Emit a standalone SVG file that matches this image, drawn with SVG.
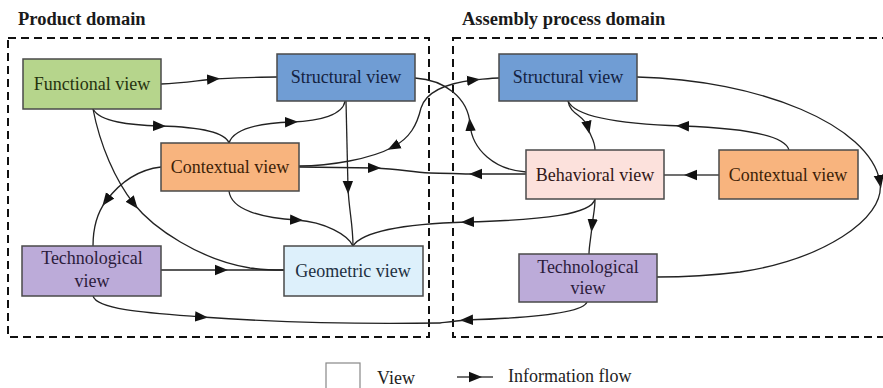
<svg xmlns="http://www.w3.org/2000/svg" width="883" height="388" viewBox="0 0 883 388">
<defs>
<marker id="a" markerUnits="userSpaceOnUse" markerWidth="14" markerHeight="12" refX="7" refY="6" orient="auto"><path d="M0,0.8 L13,6 L0,11.2 z" fill="#111"/></marker>
<style>
.t{font-family:"Liberation Serif","Times New Roman",serif;font-size:18px;text-anchor:middle}
.h{font-family:"Liberation Serif","Times New Roman",serif;font-size:18.5px;font-weight:bold;fill:#1a1a1a}
.n{stroke:#4a4a4a;stroke-width:1.5}
.c path{fill:none;stroke:#222;stroke-width:1.3}
.m{marker-end:url(#a)}
.d{fill:none;stroke:#111;stroke-width:2;stroke-dasharray:8,5}
</style>
</defs>
<rect width="883" height="388" fill="#fff"/>
<text class="h" x="18" y="25">Product domain</text>
<text class="h" x="462" y="25">Assembly process domain</text>
<rect class="d" x="8" y="38" width="421" height="299"/>
<rect class="d" x="453" y="38" width="437" height="299"/>

<g class="c" id="connectors">
<path class="m" d="M161,84 C185,83 200,80 214,79"/><path d="M214,79 C235,78 255,77 277,77"/>
<path class="m" d="M93,109 C100,122 130,125 160,126"/><path d="M160,126 C200,127 225,132 229,143"/>
<path class="m" d="M229,143 C234,128 260,123 292,122"/><path d="M292,122 C320,121 343,115 345,101"/>
<path class="m" d="M93,109 C100,145 115,180 134,204"/><path d="M134,204 C153,228 200,260 250,268 C265,270 275,270 284,270"/>
<path class="m" d="M161,167 C135,170 118,185 106,201"/><path d="M106,201 C97,213 93,228 93,246"/>
<path class="m" d="M229,191 C231,210 262,218 297,220"/><path d="M297,220 C325,222 348,235 353,246"/>
<path class="m" d="M346,101 L348,188"/><path d="M348,188 C349,210 353,225 353,246"/>
<path class="m" d="M595,199 C592,214 545,220 467,222"/><path d="M467,222 C400,224 362,232 353,246"/>
<path class="m" d="M595,199 C595,210 593,216 592,226"/><path d="M592,226 C591,238 589,246 589,254"/>
<path class="m" d="M161,270 L222,270"/><path d="M222,270 L284,270"/>
<path class="m" d="M93,296 C97,310 150,313 202,317"/><path d="M202,317 C300,324 380,324 440,323"/>
<path class="m" d="M587,302 C583,313 530,318 466,320"/><path d="M466,320 C455,321 448,322 440,323"/>
<path class="m" d="M299,167 L375,168"/><path d="M375,168 C400,169 410,172 430,173"/>
<path class="m" d="M526,174 L475,174"/><path d="M475,174 C460,174 445,173 430,173"/>
<path class="m" d="M421,108 C417,125 410,138 393,147"/><path d="M393,147 C371,159 330,166 299,166"/>
<path class="m" d="M421,108 C425,95 440,84 474,80"/><path d="M474,80 C485,79 492,78 499,78"/>
<path class="m" d="M568,101 C570,115 585,115 588,128"/><path d="M588,128 C590,136 595,140 595,150"/>
<path class="m" d="M789,150 C785,135 740,128 682,126"/><path d="M682,126 C620,124 575,117 568,101"/>
<path class="m" d="M637,77 C760,80 870,125 880,182"/><path d="M880,182 C886,220 820,260 740,272 C700,277 670,277 657,277"/>
<path class="m" d="M719,175 L690,175"/><path d="M690,175 L664,175"/>
<path class="m" d="M526,172 C495,170 472,150 470,124"/><path d="M470,124 C468,98 445,80 415,78"/>
<path class="m" d="M457,377 L476,377"/><path d="M476,377 L493,377"/>
</g>

<g id="p-functional"><rect class="n" x="23" y="59" width="138" height="50" fill="#b6d58c"/><text class="t" x="92" y="90" fill="#26330f">Functional view</text></g>
<g id="p-structural"><rect class="n" x="277" y="54" width="138" height="47" fill="#709dd4"/><text class="t" x="346" y="83" fill="#142240">Structural view</text></g>
<g id="p-contextual"><rect class="n" x="161" y="143" width="138" height="48" fill="#f8b47e"/><text class="t" x="230" y="173" fill="#3d1f08">Contextual view</text></g>
<g id="p-technological"><rect class="n" x="22" y="246" width="139" height="50" fill="#bcabd9"/><text class="t" x="92" y="264" fill="#2c1c3c">Technological</text><text class="t" x="92" y="287" fill="#2c1c3c">view</text></g>
<g id="p-geometric"><rect class="n" x="284" y="246" width="139" height="50" fill="#ddf0fb"/><text class="t" x="353" y="277" fill="#1e3042">Geometric view</text></g>
<g id="a-structural"><rect class="n" x="499" y="54" width="138" height="47" fill="#709dd4"/><text class="t" x="568" y="83" fill="#142240">Structural view</text></g>
<g id="a-behavioral"><rect class="n" x="526" y="150" width="138" height="49" fill="#fce1dc"/><text class="t" x="595" y="181" fill="#321818">Behavioral view</text></g>
<g id="a-contextual"><rect class="n" x="719" y="150" width="139" height="49" fill="#f8b47e"/><text class="t" x="788" y="181" fill="#3d1f08">Contextual view</text></g>
<g id="a-technological"><rect class="n" x="519" y="254" width="138" height="48" fill="#bcabd9"/><text class="t" x="588" y="273" fill="#2c1c3c">Technological</text><text class="t" x="588" y="294" fill="#2c1c3c">view</text></g>

<g id="legend">
<rect x="326" y="363" width="34" height="34" fill="#fff" stroke="#888" stroke-width="1.2"/>
<text class="t" x="377" y="384" style="text-anchor:start" fill="#222">View</text>
<text class="t" x="508" y="382" style="text-anchor:start" fill="#222">Information flow</text>
</g>
</svg>
